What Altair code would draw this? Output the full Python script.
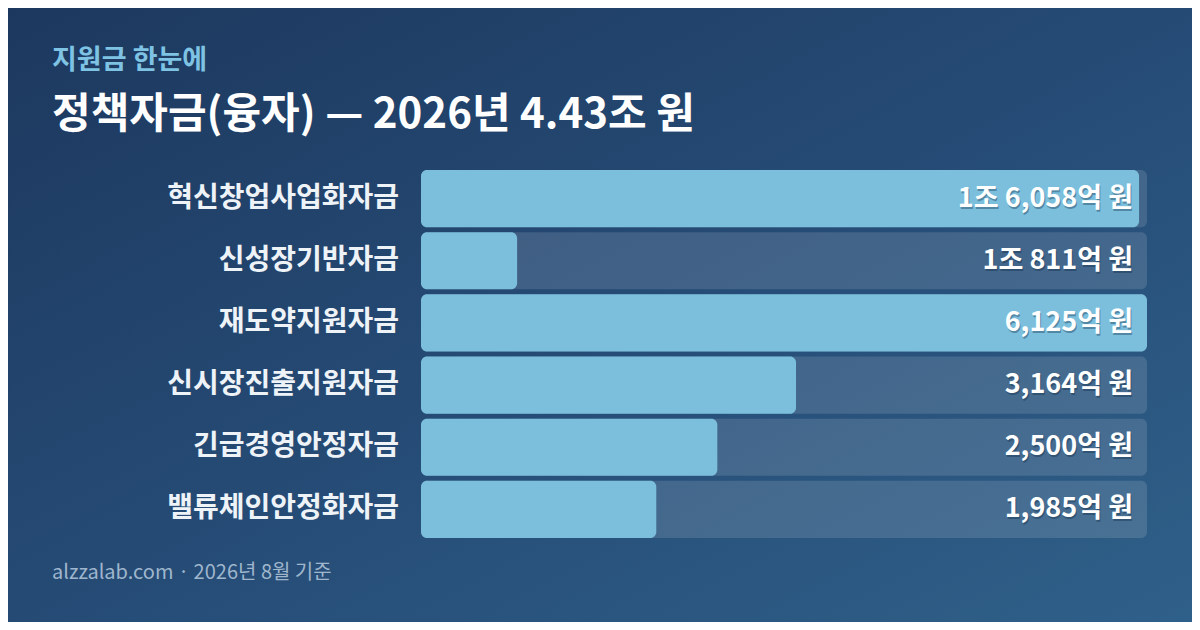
import altair as alt
import pandas as pd

# ---- data ----
names = ["혁신창업사업화자금", "신성장기반자금", "재도약지원자금",
         "신시장진출지원자금", "긴급경영안정자금", "밸류체인안정화자금"]
amount_labels = ["1조 6,058억 원", "1조 811억 원", "6,125억 원",
                 "3,164억 원", "2,500억 원", "1,985억 원"]
bar_values = [6058, 811, 6125, 3164, 2500, 1985]

subtitle_text = "지원금 한눈에"
title_text = "정책자금(융자) — 2026년 4.43조 원"
footer_text = "alzzalab.com · 2026년 8월 기준"

# ---- layout ----
W, H = 1184, 614
FONT = "Noto Sans CJK KR"
vmax = max(bar_values)

df = pd.DataFrame({
    "name": names,
    "label": amount_labels,
    "value": bar_values,
    "track": [vmax] * len(names),
})

xscale = alt.Scale(domain=[0, vmax], range=[413, 1139], nice=False, zero=True)
yscale = alt.Scale(domain=names, range=[162, 530], paddingInner=0.08, paddingOuter=0)

base = alt.Chart(df)
Y = alt.Y("name:N", sort=names, scale=yscale, axis=None)

bg = alt.Chart(pd.DataFrame({"k": [0]})).mark_rect(
    color=alt.LinearGradient(
        gradient="linear", x1=0, y1=0, x2=1, y2=1,
        stops=[alt.GradientStop(color="#1d385e", offset=0),
               alt.GradientStop(color="#254b75", offset=0.5),
               alt.GradientStop(color="#2f6089", offset=1)],
    )
).encode(x=alt.value(0), x2=alt.value(W), y=alt.value(0), y2=alt.value(H))

track = base.mark_bar(color="#ffffff", opacity=0.13, cornerRadius=6).encode(
    x=alt.X("track:Q", scale=xscale, axis=None),
    x2=alt.datum(0),
    y=Y,
)

bars = base.mark_bar(color="#7bbfdd", cornerRadius=6).encode(
    x=alt.X("value:Q", scale=xscale, axis=None),
    x2=alt.datum(0),
    y=Y,
)

cat_labels = base.mark_text(
    align="right", baseline="middle", font=FONT, fontSize=28,
    fontWeight="bold", color="#eef3f8",
).encode(x=alt.value(391), y=Y, text="name:N")

val_shadow = base.mark_text(
    align="right", baseline="middle", font=FONT, fontSize=27,
    fontWeight="bold", color="#0b2540", opacity=0.35, dx=1, dy=2,
).encode(x=alt.value(1125), y=Y, text="label:N")

val_labels = base.mark_text(
    align="right", baseline="middle", font=FONT, fontSize=27,
    fontWeight="bold", color="#ffffff",
).encode(x=alt.value(1125), y=Y, text="label:N")

one = pd.DataFrame({"sub": [subtitle_text], "title": [title_text], "foot": [footer_text]})

subtitle = alt.Chart(one).mark_text(
    align="left", baseline="alphabetic", font=FONT, fontSize=27,
    fontWeight="bold", color="#7ec3e3",
).encode(x=alt.value(44), y=alt.value(61), text="sub:N")

title = alt.Chart(one).mark_text(
    align="left", baseline="alphabetic", font=FONT, fontSize=42,
    fontWeight="bold", color="#ffffff",
).encode(x=alt.value(44), y=alt.value(120), text="title:N")

footer = alt.Chart(one).mark_text(
    align="left", baseline="alphabetic", font=FONT, fontSize=20,
    color="#9fb6cd",
).encode(x=alt.value(44), y=alt.value(571), text="foot:N")

chart = alt.layer(
    bg, track, bars, cat_labels, val_shadow, val_labels, subtitle, title, footer
).properties(
    width=W, height=H,
    autosize=alt.AutoSizeParams(type="none"),
    padding=0,
).configure_view(strokeWidth=0).configure(background="#1f3c62")

chart.save("out.html", embed_options={"renderer": "svg", "actions": False})
